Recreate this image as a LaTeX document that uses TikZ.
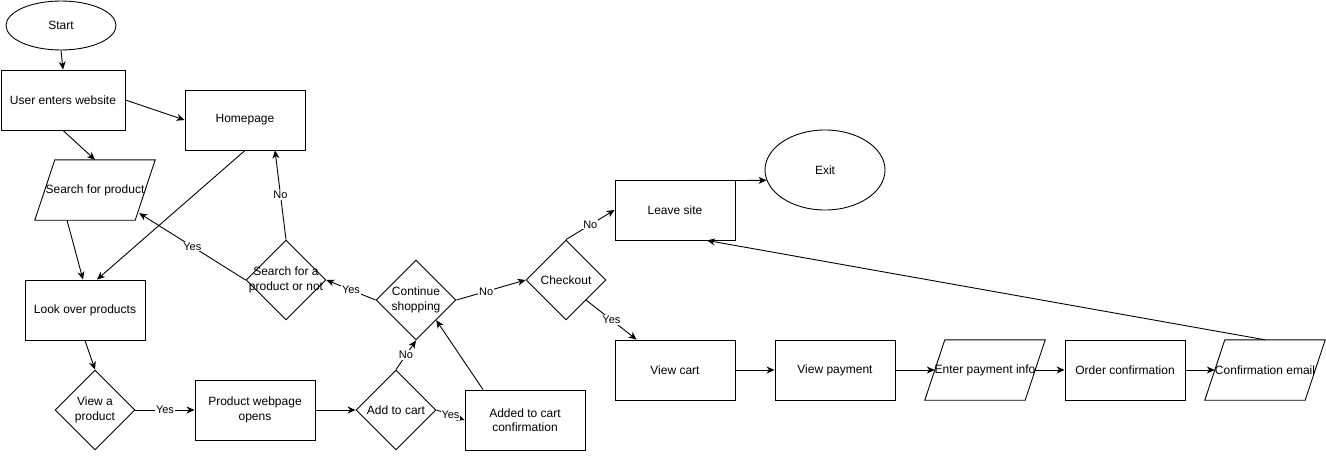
\documentclass[tikz,border=0pt]{standalone}
\usepackage{fontspec}
\setmainfont{Liberation Sans}
\usetikzlibrary{shapes.geometric,arrows.meta,calc}
\newcommand\parashape[1]{\draw[line] ($(#1.north west)+(20,0)$) -- (#1.north east) -- ($(#1.south east)+(-20,0)$) -- (#1.south west) -- cycle;}
\begin{document}
\begin{tikzpicture}[x=1pt,y=-1pt,
  line/.style={line width=0.9pt, black},
  txt/.style={align=center, inner sep=0pt, font=\fontsize{12}{14.5}\selectfont},
  box/.style={line, draw, rectangle, minimum width=120pt, minimum height=60pt, inner sep=0pt, txt},
  paral/.style={rectangle, minimum width=120pt, minimum height=60pt, inner sep=0pt, txt},
  dia/.style={line, draw, diamond, minimum width=80pt, minimum height=80pt, inner sep=0pt},
  oval/.style={line, draw, ellipse, inner sep=0pt, txt},
  arr/.style={line, -{Stealth[length=8pt,width=7pt,inset=2.5pt]}},
  lab/.style={fill=white, inner sep=0.8pt, font=\fontsize{11}{13}\selectfont}
]
\useasboundingbox (0,0) rectangle (1326,460);

% nodes
\node[oval, minimum width=110pt, minimum height=49pt] (st) at (61,25.5) {Start};
\node[box, minimum width=124pt] (uew) at (63,100) {User enters website};
\node[box] (hp) at (245,120) {Homepage};
\node[paral] (sp) at (95,190) {Search for product};
\parashape{sp}
\node[box] (lop) at (85,310) {Look over products};
\node[dia] (vap) at (95,410) {};
\node[txt] (vapt) at (vap) {View a\\product};
\node[box] (pwo) at (255,410) {Product webpage\\opens};
\node[dia] (sfp) at (286,280) {};
\node[txt] (sfpt) at (sfp) {Search for a\\product or not};
\node[dia] (cs) at (416,300) {};
\node[txt] (cst) at (cs) {Continue\\shopping};
\node[dia] (atc) at (396,410) {};
\node[txt] (atct) at (atc) {Add to cart};
\node[box] (acc) at (525,420) {Added to cart\\confirmation};
\node[dia] (co) at (566,280) {};
\node[txt] (cot) at (co) {Checkout};
\node[box] (ls) at (675,210) {Leave site};
\node[oval, minimum width=120pt, minimum height=80pt] (ex) at (825,170) {Exit};
\node[box] (vc) at (675,370) {View cart};
\node[box] (vp) at (835,370) {View payment};
\node[paral] (epi) at (985,370) {Enter payment info};
\parashape{epi}
\node[box] (oc) at (1125,370) {Order confirmation};
\node[paral] (ce) at (1265,370) {Confirmation email};
\parashape{ce}

% connectors
\draw[arr] (st.south) -- (uew.north);
\draw[arr] (uew.east) -- (hp.west);
\draw[arr] (uew.south) -- (sp.north);
\draw[arr] (hp.south) -- ($(lop.north)+(12,0)$);
\draw[arr] ($(sp.south)+(-28,0)$) -- ($(lop.north)+(-2,0)$);
\draw[arr] (lop.south) -- (vap.north);
\draw[arr] (vap.east) -- node[lab]{Yes} (pwo.west);
\draw[arr] (pwo.east) -- (atc.west);
\draw[arr] (atc.east) -- node[lab]{Yes} (acc.west);
\draw[arr] (atc.north) -- node[lab]{No} (cs.south);
\draw[arr] ($(acc.north)+(-42,0)$) -- (cs.south east);
\draw[arr] (cs.west) -- node[lab]{Yes} (sfp.east);
\draw[arr] (cs.east) -- node[lab,pos=0.43]{No} (co.west);
\draw[arr] (sfp.north) -- node[lab]{No} ($(hp.south)+(30,0)$);
\draw[arr] (sfp.west) -- node[lab]{Yes} ($(sp.south east)+(-16,-7)$);
\draw[arr] (co.north) -- node[lab]{No} (ls.west);
\draw[arr] (co.south east) -- node[lab]{Yes} ($(vc.north west)+(22,0)$);
\draw[arr] ($(ls.north east)+(0,1)$) -- (ex.190);
\draw[arr] (vc.east) -- (vp.west);
\draw[arr] (vp.east) -- ($(epi.west)+(10,0)$);
\draw[arr] ($(epi.east)+(-10,0)$) -- (oc.west);
\draw[arr] (oc.east) -- ($(ce.west)+(10,0)$);
\draw[arr] (ce.north) -- ($(ls.south)+(32,0)$);
\end{tikzpicture}
\end{document}
